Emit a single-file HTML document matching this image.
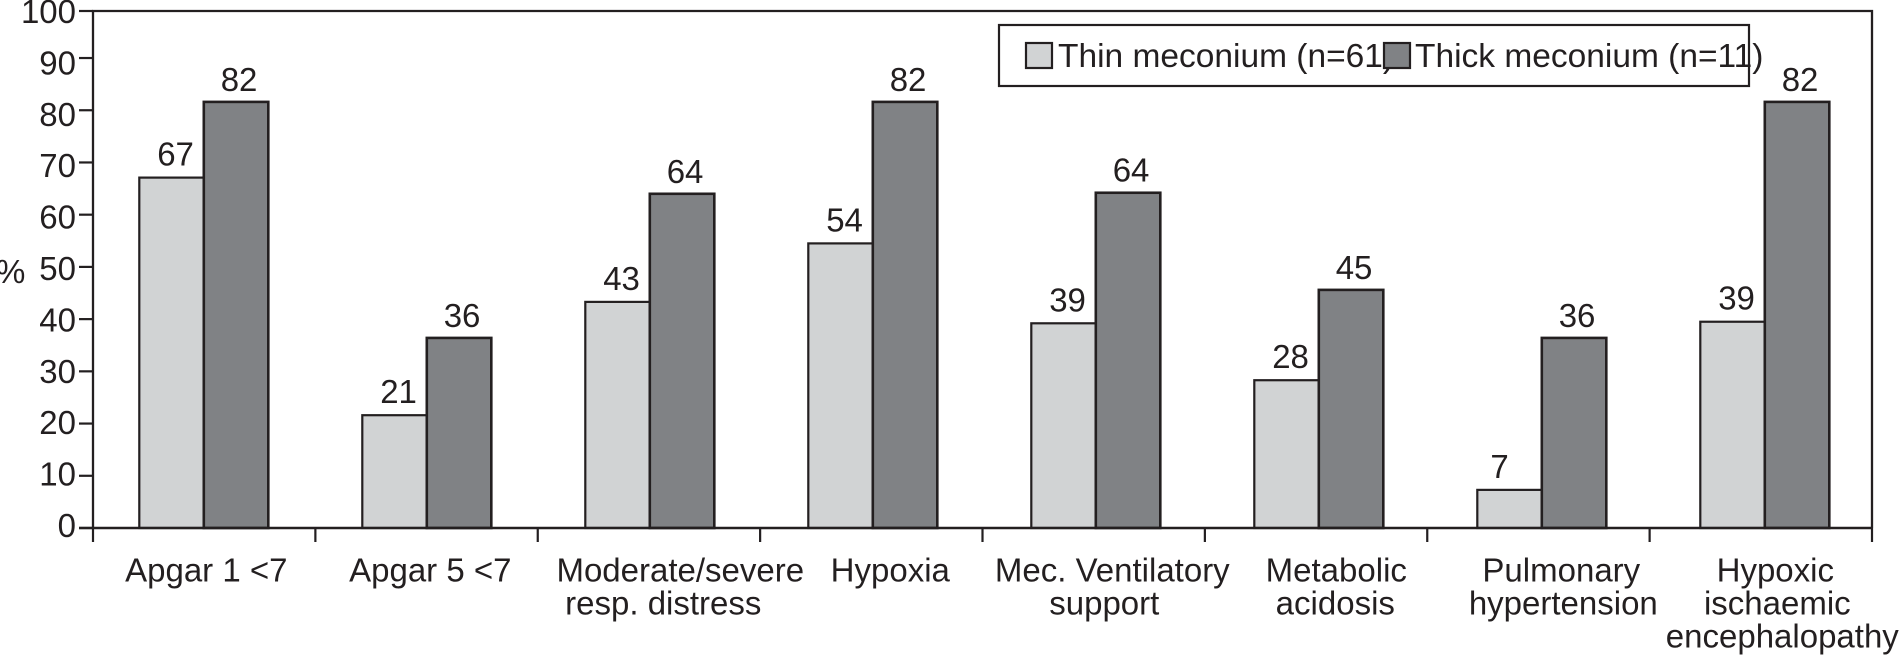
<!DOCTYPE html>
<html lang="en">
<head>
<meta charset="utf-8">
<title>Meconium outcomes chart</title>
<style>
  html, body { margin: 0; padding: 0; background: #fff; }
  body { width: 1900px; height: 656px; overflow: hidden; }
  svg { display: block; font-family: "Liberation Sans", Arial, sans-serif; fill: #231f20; }
</style>
</head>
<body>
<svg id="chart" width="1900" height="656" viewBox="0 0 1900 656" xmlns="http://www.w3.org/2000/svg">
  <rect x="0" y="0" width="1900" height="656" fill="#ffffff"/>
  <g id="bars"></g>
  <g id="axes"></g>
  <text x="-4" y="283" font-size="33">%</text>
  <g>
    <rect x="999" y="25" width="750" height="61" fill="none" stroke="#231f20" stroke-width="2.2"/>
    <text x="1058" y="67" font-size="33.5">Thin meconium (n=61)</text>
    <text x="1415" y="67" font-size="33.5">Thick meconium (n=11)</text>
    <rect x="1026" y="43" width="26" height="25" fill="#d1d3d4" stroke="#231f20" stroke-width="2.2"/>
    <rect x="1384" y="43" width="26" height="25" fill="#808285" stroke="#231f20" stroke-width="2.2"/>
  </g>
</svg>
<script>
const categories = [
  ["Apgar 1 <7"],
  ["Apgar 5 <7"],
  ["Moderate/severe", "resp. distress"],
  ["Hypoxia"],
  ["Mec. Ventilatory", "support"],
  ["Metabolic", "acidosis"],
  ["Pulmonary", "hypertension"],
  ["Hypoxic", "ischaemic", "encephalopathy"]
];
const thinValues = [67.1, 21.6, 43.3, 54.5, 39.2, 28.3, 7.3, 39.5];
const thickValues = [81.6, 36.4, 64.0, 81.6, 64.2, 45.6, 36.4, 81.6];
const thinLabels = ["67", "21", "43", "54", "39", "28", "7", "39"];
const thickLabels = ["82", "36", "64", "82", "64", "45", "36", "82"];
const yTicks = [0, 10, 20, 30, 40, 50, 60, 70, 80, 90, 100];

const SVG_NS = "http://www.w3.org/2000/svg";
const INK = "#231f20";
const plot = { left: 93, right: 1872, top: 11, base: 528, tickLen: 14 };
const band = { start: 92.3, step: 223, barWidth: 64.5 };
const labelNudge = {
  "Apgar 1 <7": 2.5, "Apgar 5 <7": 3.5, "Moderate/severe": 30.5, "resp. distress": 13.5,
  "Hypoxia": 17.5, "Mec. Ventilatory": 16.5, "support": 8.5, "Metabolic": 17.5, "acidosis": 16.5,
  "Pulmonary": 19.5, "hypertension": 21.5, "Hypoxic": 10.5, "ischaemic": 12.5, "encephalopathy": 17.5
};

function yScale(v) { return plot.base - v * 5.222; }
function yTickPos(v) { return Math.max(plot.top, yScale(v)); }
function yLabelBaseline(v) { return 537 - v * 5.14; }
function xCenter(i) { return band.start + band.step * (i + 0.5); }
function xTick(i) { return plot.left + i * (plot.right - plot.left) / categories.length; }

function make(tag, parent, attrs) {
  const el = document.createElementNS(SVG_NS, tag);
  for (const k in attrs) el.setAttribute(k, attrs[k]);
  parent.appendChild(el);
  return el;
}

const barsLayer = document.getElementById("bars");
const axesLayer = document.getElementById("axes");

categories.forEach(function (lines, i) {
  const mid = xCenter(i);

  const thinBar = make("rect", barsLayer, {
    x: mid - band.barWidth, y: yScale(thinValues[i]),
    width: band.barWidth, height: plot.base - yScale(thinValues[i]),
    fill: "#d1d3d4", stroke: INK, "stroke-width": 2.2
  });
  
  

  const thickBar = make("rect", barsLayer, {
    x: mid, y: yScale(thickValues[i]),
    width: band.barWidth, height: plot.base - yScale(thickValues[i]),
    fill: "#808285", stroke: INK, "stroke-width": 2.6
  });
  
  

  const thinShift = thinLabels[i].length === 1 ? -10 : 4;
  const thinText = make("text", barsLayer, {
    x: mid - band.barWidth / 2 + thinShift, y: yScale(thinValues[i]) - 12,
    "font-size": 33, "text-anchor": "middle"
  });
  thinText.textContent = thinLabels[i];
  
  

  const thickText = make("text", barsLayer, {
    x: mid + band.barWidth / 2 + 3, y: yScale(thickValues[i]) - 11,
    "font-size": 33, "text-anchor": "middle"
  });
  thickText.textContent = thickLabels[i];
  
  

  lines.forEach(function (line, n) {
    const label = make("text", axesLayer, {
      x: mid + labelNudge[line], y: 581.7 + n * 33,
      "font-size": 33, "text-anchor": "middle"
    });
    label.textContent = line;
    
    
  });
});

const frame = make("path", axesLayer, {
  d: "M" + plot.left + " " + plot.base + "V" + plot.top + "H" + plot.right + "V" + plot.base,
  fill: "none", stroke: INK, "stroke-width": 2.3
});



const xAxis = make("line", axesLayer, {
  x1: plot.left - plot.tickLen, x2: plot.right,
  y1: plot.base, y2: plot.base, stroke: INK, "stroke-width": 2.4
});



for (let i = 0; i <= categories.length; i++) {
  const tick = make("line", axesLayer, {
    x1: xTick(i), x2: xTick(i), y1: plot.base, y2: plot.base + plot.tickLen,
    stroke: INK, "stroke-width": 2.2
  });
  
  
}

yTicks.forEach(function (v) {
  const tick = make("line", axesLayer, {
    x1: plot.left - plot.tickLen, x2: plot.left, y1: yTickPos(v), y2: yTickPos(v),
    stroke: INK, "stroke-width": 2.2
  });
  
  

  const label = make("text", axesLayer, {
    x: 76, y: yLabelBaseline(v), "font-size": 33, "text-anchor": "end"
  });
  label.textContent = String(v);
  
  
});
</script>
</body>
</html>
